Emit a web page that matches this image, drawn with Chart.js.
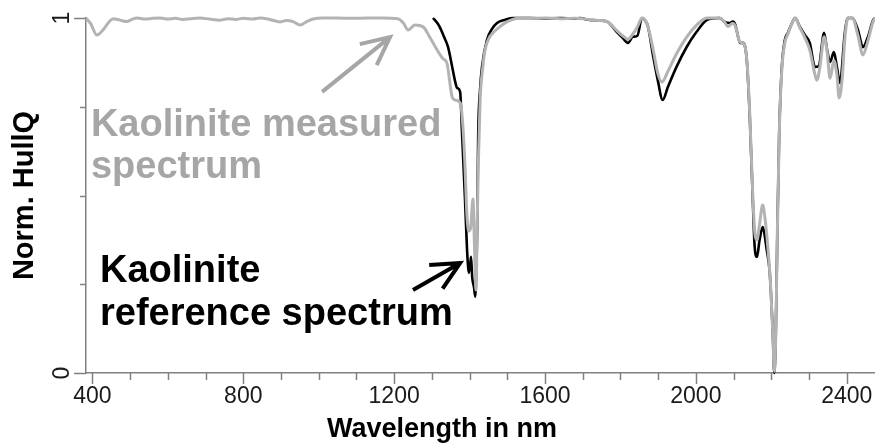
<!DOCTYPE html>
<html>
<head>
<meta charset="utf-8">
<script src="https://cdn.jsdelivr.net/npm/chart.js@4.4.1/dist/chart.umd.min.js"></script>
<style>
  html, body { margin: 0; padding: 0; background: #fff; }
  #wrap { width: 875px; height: 444px; }
</style>
</head>
<body>
<div id="wrap"><canvas id="spectrumChart" width="875" height="444"></canvas></div>
<script>
// Kaolinite measured spectrum (grey)
const measuredNm = [383, 395, 412, 428, 445, 455, 473, 491, 505, 518, 540, 560, 579, 600, 620, 640, 660, 685, 710, 738,
  760, 780, 800, 825, 844, 870, 898, 915, 932, 951, 968, 985, 1010, 1050, 1090, 1130, 1170, 1210, 1225, 1237,
  1255, 1277, 1295, 1314, 1330, 1340, 1354, 1362, 1375, 1382, 1388, 1393, 1398, 1403, 1409, 1413, 1417, 1420, 1423, 1428,
  1435, 1441, 1450, 1462, 1480, 1499, 1534, 1560, 1600, 1640, 1680, 1700, 1727, 1764, 1790, 1806, 1820, 1833, 1845, 1857,
  1865, 1873, 1887, 1899, 1910, 1926, 1949, 1976, 2002, 2029, 2063, 2075, 2085, 2098, 2107, 2112, 2117, 2125, 2135, 2143,
  2151, 2156, 2162, 2169, 2177, 2184, 2192, 2198, 2204, 2208, 2212, 2216, 2221, 2228, 2236, 2244, 2255, 2263, 2276, 2289,
  2302, 2316, 2321, 2330, 2340, 2348, 2356, 2366, 2374, 2380, 2388, 2395, 2403, 2415, 2430, 2443, 2456, 2470, 2475];
const measuredVal = [1.0, 0.985, 0.952, 0.966, 0.99, 0.998, 0.994, 0.99, 0.996, 1.0, 0.997, 0.999, 1.0, 0.997, 0.999, 0.996, 0.998, 1.0, 0.997, 0.994,
  0.998, 0.996, 0.999, 0.997, 1.0, 0.996, 0.989, 0.993, 0.99, 0.98, 0.99, 0.997, 1.0, 1.0, 0.999, 1.0, 1.0, 0.998, 0.985, 0.966,
  0.98, 0.975, 0.945, 0.91, 0.885, 0.873, 0.777, 0.769, 0.761, 0.70, 0.58, 0.445, 0.40, 0.41, 0.49, 0.36, 0.234, 0.40, 0.58, 0.769,
  0.86, 0.91, 0.94, 0.958, 0.975, 0.989, 1.0, 0.999, 1.0, 0.998, 0.999, 0.998, 0.994, 0.99, 0.965, 0.95, 0.94, 0.955, 0.975, 1.0,
  0.995, 0.976, 0.91, 0.845, 0.82, 0.85, 0.90, 0.947, 0.98, 1.0, 1.0, 0.99, 0.976, 0.985, 0.97, 0.947, 0.932, 0.93, 0.885, 0.73,
  0.50, 0.40, 0.375, 0.42, 0.473, 0.43, 0.34, 0.25, 0.113, 0.005, 0.11, 0.39, 0.67, 0.855, 0.93, 0.955, 0.985, 1.0, 0.972, 0.945,
  0.91, 0.84, 0.825, 0.87, 0.947, 0.905, 0.83, 0.88, 0.84, 0.775, 0.83, 0.94, 1.0, 1.0, 0.95, 0.896, 0.935, 0.99, 1.0];

// Kaolinite reference spectrum (black)
const referenceNm = [1303, 1315, 1322, 1333, 1343, 1354, 1362, 1367, 1375, 1380, 1388, 1393, 1396, 1398, 1402, 1404, 1407, 1412, 1415, 1418,
  1420, 1423, 1428, 1433, 1446, 1460, 1473, 1495, 1515, 1560, 1600, 1640, 1680, 1693, 1710, 1727, 1764, 1790, 1806, 1820,
  1833, 1845, 1857, 1865, 1873, 1887, 1899, 1912, 1926, 1949, 1976, 2002, 2029, 2063, 2075, 2090, 2098, 2105, 2112, 2117,
  2125, 2135, 2143, 2151, 2156, 2162, 2169, 2177, 2188, 2196, 2204, 2208, 2212, 2216, 2221, 2228, 2236, 2244, 2255, 2263,
  2276, 2289, 2302, 2316, 2326, 2340, 2348, 2356, 2366, 2374, 2382, 2395, 2403, 2415, 2430, 2443, 2456, 2470, 2475];
const referenceVal = [1.0, 0.985, 0.972, 0.945, 0.918, 0.862, 0.82, 0.803, 0.792, 0.676, 0.487, 0.355, 0.30, 0.282, 0.31, 0.327, 0.27, 0.24, 0.215, 0.30,
  0.394, 0.676, 0.80, 0.862, 0.938, 0.97, 0.986, 0.995, 1.0, 1.0, 0.999, 1.0, 0.998, 1.0, 0.996, 0.994, 0.99, 0.961, 0.944, 0.93,
  0.947, 0.95, 1.0, 0.994, 0.976, 0.891, 0.825, 0.769, 0.806, 0.863, 0.919, 0.961, 0.994, 1.0, 0.99, 0.986, 0.99, 0.98, 0.947, 0.93,
  0.93, 0.882, 0.721, 0.487, 0.355, 0.327, 0.375, 0.411, 0.346, 0.282, 0.113, 0.0, 0.113, 0.394, 0.676, 0.862, 0.938, 0.958, 0.986, 1.0,
  0.975, 0.952, 0.93, 0.862, 0.865, 0.958, 0.91, 0.876, 0.904, 0.862, 0.817, 0.958, 1.0, 1.0, 0.966, 0.918, 0.946, 0.994, 1.0];

const xTicks = [400, 500, 600, 700, 800, 900, 1000, 1100, 1200, 1300, 1400, 1500, 1600, 1700, 1800, 1900, 2000, 2100, 2200, 2300, 2400];
const xTickLabels = [400, 800, 1200, 1600, 2000, 2400];
const yTicks = [0, 0.25, 0.5, 0.75, 1];
const yTickLabels = [0, 1];

const AXIS_GREY = '#808080';
const MEASURED_GREY = '#b3b3b3';
const TEXT_GREY = '#a6a6a6';
const FONT = '"Liberation Sans", Arial, sans-serif';

const toPoints = (xs, ys) => xs.map((v, i) => ({ x: v, y: ys[i] }));

function drawArrow(ctx, x0, y0, x1, y1, color) {
    const ang = Math.atan2(y0 - y1, x0 - x1);
    const head = 31, spread = 0.45;
    ctx.strokeStyle = color;
    ctx.lineWidth = 4;
    ctx.lineCap = 'butt';
    ctx.beginPath();
    ctx.moveTo(x0, y0);
    ctx.lineTo(x1, y1);
    ctx.moveTo(x1 + head * Math.cos(ang + spread), y1 + head * Math.sin(ang + spread));
    ctx.lineTo(x1, y1);
    ctx.lineTo(x1 + head * Math.cos(ang - spread), y1 + head * Math.sin(ang - spread));
    ctx.stroke();
}

const axisDecor = {
    id: 'axisDecor',
    afterDraw(chart) {
        const { ctx, chartArea } = chart;
        const x = chart.scales.x, y = chart.scales.y;
        ctx.save();

        // tick marks
        ctx.strokeStyle = AXIS_GREY;
        ctx.lineWidth = 1.5;
        xTicks.forEach(v => {
            const px = Math.round(x.getPixelForValue(v)) + 0.5;
            const len = xTickLabels.includes(v) ? 11 : 7;
            ctx.beginPath();
            ctx.moveTo(px, chartArea.bottom);
            ctx.lineTo(px, chartArea.bottom + len);
            ctx.stroke();
        });
        yTicks.forEach(v => {
            const py = Math.round(y.getPixelForValue(v)) + 0.5;
            const len = yTickLabels.includes(v) ? 12 : 6;
            ctx.beginPath();
            ctx.moveTo(chartArea.left, py);
            ctx.lineTo(chartArea.left - len, py);
            ctx.stroke();
        });

        // tick labels
        ctx.fillStyle = '#1a1a1a';
        ctx.font = '23px ' + FONT;
        ctx.textAlign = 'center';
        ctx.textBaseline = 'alphabetic';
        xTickLabels.forEach(v => {
            ctx.fillText(String(v), x.getPixelForValue(v), 403);
        });
        yTickLabels.forEach(v => {
            ctx.save();
            ctx.translate(69, y.getPixelForValue(v));
            ctx.rotate(-Math.PI / 2);
            ctx.fillText(String(v), 0, 0);
            ctx.restore();
        });

        // axis titles
        ctx.fillStyle = '#000';
        ctx.font = 'bold 27px ' + FONT;
        ctx.fillText('Wavelength in nm', 442, 437);
        ctx.save();
        ctx.font = 'bold 29px ' + FONT;
        ctx.translate(33, (chartArea.top + chartArea.bottom) / 2);
        ctx.rotate(-Math.PI / 2);
        ctx.fillText('Norm. HullQ', 0, 0);
        ctx.restore();

        // annotations
        ctx.textAlign = 'left';
        ctx.font = 'bold 38px ' + FONT;
        ctx.fillStyle = TEXT_GREY;
        ctx.fillText('Kaolinite measured', x.getPixelForValue(396), y.getPixelForValue(0.668));
        ctx.fillText('spectrum', x.getPixelForValue(396), y.getPixelForValue(0.549));
        ctx.fillStyle = '#000';
        ctx.fillText('Kaolinite', x.getPixelForValue(420), y.getPixelForValue(0.256));
        ctx.fillText('reference spectrum', x.getPixelForValue(420), y.getPixelForValue(0.135));

        drawArrow(ctx, x.getPixelForValue(1009), y.getPixelForValue(0.792),
                  x.getPixelForValue(1189), y.getPixelForValue(0.946), TEXT_GREY);
        drawArrow(ctx, x.getPixelForValue(1250), y.getPixelForValue(0.234),
                  x.getPixelForValue(1375), y.getPixelForValue(0.31), '#000');

        ctx.restore();
    }
};

new Chart(document.getElementById('spectrumChart'), {
    type: 'line',
    data: {
        datasets: [
            {
                label: 'Kaolinite measured spectrum',
                data: toPoints(measuredNm, measuredVal),
                borderColor: MEASURED_GREY,
                borderWidth: 3,
                pointRadius: 0,
                cubicInterpolationMode: 'monotone',
                clip: false,
                order: 0
            },
            {
                label: 'Kaolinite reference spectrum',
                data: toPoints(referenceNm, referenceVal),
                borderColor: '#000000',
                borderWidth: 2.6,
                pointRadius: 0,
                cubicInterpolationMode: 'monotone',
                clip: false,
                order: 1
            }
        ]
    },
    options: {
        responsive: false,
        animation: false,
        events: [],
        layout: { padding: { top: 18, right: 0, bottom: 0, left: 0 } },
        plugins: {
            legend: { display: false },
            tooltip: { enabled: false }
        },
        scales: {
            x: {
                type: 'linear',
                min: 383,
                max: 2475,
                grid: { display: false },
                border: { display: true, color: AXIS_GREY, width: 1.5 },
                ticks: { display: false },
                afterFit: s => { s.height = 71; }
            },
            y: {
                min: 0,
                max: 1,
                grid: { display: false },
                border: { display: true, color: AXIS_GREY, width: 1.5 },
                ticks: { display: false },
                afterFit: s => { s.width = 86; }
            }
        }
    },
    plugins: [axisDecor]
});
</script>
</body>
</html>
